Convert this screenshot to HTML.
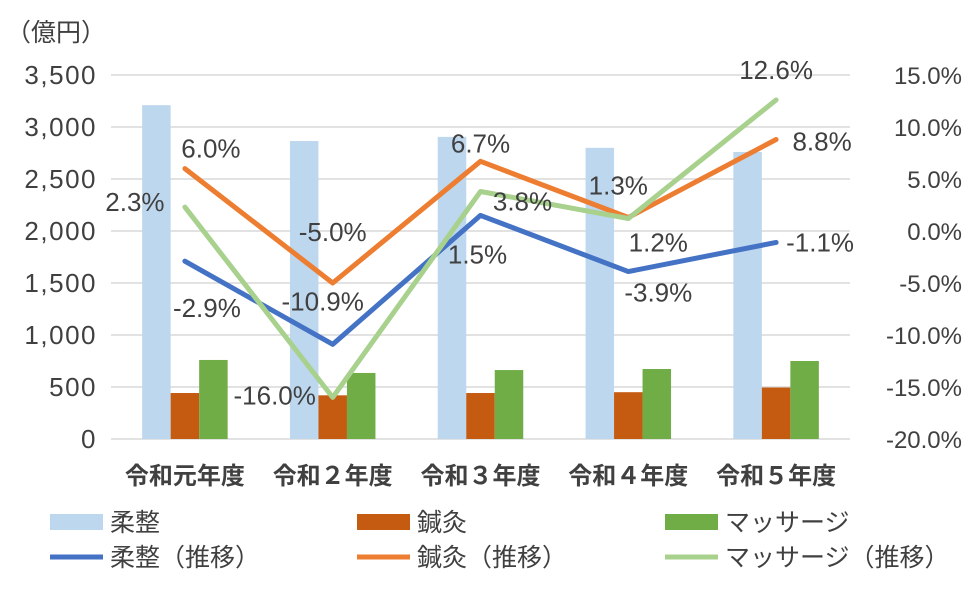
<!DOCTYPE html>
<html><head><meta charset="utf-8"><style>
body{margin:0;background:#fff}
text{font-family:"Liberation Sans","Noto Sans CJK JP",sans-serif;fill:#404040}
</style></head><body>
<svg id="c" width="979" height="593" xmlns="http://www.w3.org/2000/svg"></svg>
<script>
const categories=["令和元年度","令和２年度","令和３年度","令和４年度","令和５年度"];
const juseiBars=[3210,2865,2905,2800,2760];
const shinkyuBars=[442,420,442,450,495];
const massageBars=[760,635,663,673,750];
const juseiRate=[-2.9,-10.9,1.5,-3.9,-1.1];
const shinkyuRate=[6.0,-5.0,6.7,1.3,8.8];
const massageRate=[2.3,-16.0,3.8,1.2,12.6];
const leftTicks=[0,500,1000,1500,2000,2500,3000,3500];
const rightTicks=[-20,-15,-10,-5,0,5,10,15];
const juseiOff=[[22,47],[-10,-43],[-3,39],[30,21],[44,0]];
const shinkyuOff=[[26,-20],[0,-51],[0,-18],[-10,-32],[46,2]];
const massageOff=[[-50,-5],[-58,-2],[42,10],[30,24],[0,-30]];

const svg=document.getElementById('c');const NS="http://www.w3.org/2000/svg";
function mk(t,a,p){const e=document.createElementNS(NS,t);for(const k in a)e.setAttribute(k,a[k]);(p||svg).appendChild(e);return e;}
const x0=111,x1=850,yB=439,yT=75;
const yL=v=>yB-(v/3500)*(yB-yT);
const yR=v=>yB-((v+20)/35)*(yB-yT);
const step=(x1-x0)/categories.length;
const xc=i=>x0+step*(i+0.5);

leftTicks.forEach(v=>{
  if(v>0){const g=mk('line',{x1:x0,x2:x1,y1:yL(v),y2:yL(v),stroke:'#d9d9d9','stroke-width':1.5});
  
  }
  const t=mk('text',{x:97,y:yL(v)+9,'text-anchor':'end','font-size':26,'letter-spacing':1.5});t.textContent=v.toLocaleString('en-US');
  
  
});
const ax=mk('line',{x1:x0,x2:x1,y1:yB,y2:yB,stroke:'#d9d9d9','stroke-width':1.5});


rightTicks.forEach(v=>{
  const t=mk('text',{x:962,y:yR(v)+9,'text-anchor':'end','font-size':24});t.textContent=v.toFixed(1)+'%';
  
  
});
const u=mk('text',{x:6,y:41,'font-size':25});u.textContent='（億円）';



const bw=28.5;
[[juseiBars,'#bdd7ee',-1.5],[shinkyuBars,'#c55a11',-0.5],[massageBars,'#70ad47',0.5]].forEach(([arr,col,o])=>{
  arr.forEach((v,i)=>{const r=mk('rect',{x:xc(i)+o*bw,y:yL(v),width:bw,height:yB-yL(v),fill:col});
  
  });
});
categories.forEach((c,i)=>{const t=mk('text',{x:xc(i),y:484,'text-anchor':'middle','font-size':24,'font-weight':'bold'});t.textContent=c;
  
  });

[[juseiRate,'#4472c4',juseiOff],[shinkyuRate,'#ed7d31',shinkyuOff],[massageRate,'#a9d18e',massageOff]].forEach(([arr,col,off])=>{
  const p=mk('polyline',{points:arr.map((v,i)=>xc(i)+','+yR(v)).join(' '),fill:'none',stroke:col,'stroke-width':5,'stroke-linecap':'round','stroke-linejoin':'round'});
  
  
  arr.forEach((v,i)=>{const t=mk('text',{x:xc(i)+off[i][0],y:yR(v)+off[i][1]+9,'text-anchor':'middle','font-size':26});t.textContent=v.toFixed(1)+'%';
    
    });
});

const leg=[[50,522,'rect','#bdd7ee','柔整'],[357,522,'rect','#c55a11','鍼灸'],[665,522,'rect','#70ad47','マッサージ'],
[50,557,'line','#4472c4','柔整（推移）'],[357,557,'line','#ed7d31','鍼灸（推移）'],[665,557,'line','#a9d18e','マッサージ（推移）']];
leg.forEach(([x,y,k,col,txt])=>{
  const g=mk('g',{});
  
  
  if(k==='rect')mk('rect',{x:x,y:y-8,width:53,height:16,fill:col},g);
  else mk('line',{x1:x,x2:x+53,y1:y,y2:y,stroke:col,'stroke-width':5},g);
  const t=mk('text',{x:x+60,y:y+9,'font-size':25},g);t.textContent=txt;
});
</script>
</body></html>
